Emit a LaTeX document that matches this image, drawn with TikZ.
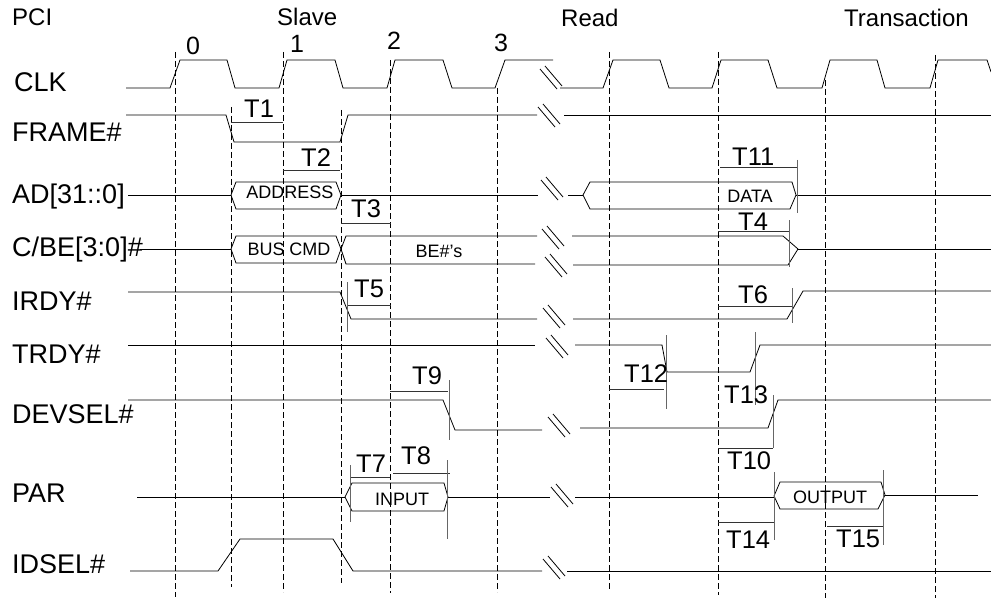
\documentclass[tikz,border=0pt]{standalone}
\usepackage{fontspec}
\setmainfont{Liberation Sans}
\newcommand\brkmark[2]{%
  \draw[sig] ({#1-10},{#2-9}) -- ({#1+7},{#2+11});
  \draw[sig] ({#1-5},{#2-12}) -- ({#1+12},{#2+8});}
\newcommand\clkline[3]{\draw[vdsh] (#1,#2) -- (#1,#3);}
\begin{document}
\begin{tikzpicture}[x=1pt,y=-1pt,
  sig/.style={line width=0.8pt,black},
  tm/.style={line width=0.7pt,black!80},
  tmv/.style={line width=0.7pt,black!60},
  vdsh/.style={line width=0.7pt,black,dash pattern=on 6pt off 3pt},
  nm/.style={anchor=base west,inner sep=0pt,font=\fontsize{27}{30}\selectfont},
  hd/.style={anchor=base west,inner sep=0pt,font=\fontsize{24}{28}\selectfont},
  tl/.style={anchor=base west,inner sep=0pt,font=\fontsize{25.5}{28}\selectfont},
  bl/.style={anchor=base,inner sep=0pt,font=\fontsize{18}{21}\selectfont}]
\useasboundingbox[fill=white] (0,0) rectangle (991,599);

% headers
\node[hd] (hPCI) at (12,26) {PCI};
\node[hd] (hSlave) at (277,26) {Slave};
\node[hd] (hRead) at (561,27) {Read};
\node[hd] (hTr) at (844,27) {Transaction};
\node[nm,font=\fontsize{25}{28}\selectfont] (n0) at (186,55) {0};
\node[nm,font=\fontsize{25}{28}\selectfont] (n1) at (290,53) {1};
\node[nm,font=\fontsize{25}{28}\selectfont] (n2) at (387,50) {2};
\node[nm,font=\fontsize{25}{28}\selectfont] (n3) at (494,52) {3};

% signal names
\node[nm] (lCLK) at (14,92) {CLK};
\node[nm] (lFRAME) at (12,142) {FRAME\#};
\node[nm] (lAD) at (12,204) {AD[31::0]};
\node[nm] (lCBE) at (12,256) {C/BE[3:0]\#};
\node[nm] (lIRDY) at (12,310) {IRDY\#};
\node[nm] (lTRDY) at (12,363) {TRDY\#};
\node[nm] (lDEV) at (12,423) {DEVSEL\#};
\node[nm] (lPAR) at (12,502) {PAR};
\node[nm] (lIDSEL) at (12,573) {IDSEL\#};

% dashed clock lines
\clkline{175}{52}{597}
\clkline{231}{107}{587}
\clkline{283}{52}{592}
\clkline{341}{110}{583}
\clkline{390}{60}{593}
\clkline{497}{88}{592}
\clkline{609}{52}{590}
\clkline{718}{52}{595}
\clkline{825}{80}{598}
\clkline{935}{55}{598}

% CLK
\draw[sig] (126,88) -- (170,88) -- (180,60) -- (227,60) -- (235,88) -- (279,88) -- (287,60) -- (335,60) -- (343,88) -- (387,88) -- (395,60) -- (443,60) -- (452,88) -- (495,88) -- (505,60) -- (553,60);
\draw[sig] (560,88) -- (603,88) -- (613,60) -- (660,60) -- (669,88) -- (712,88) -- (721,60) -- (768,60) -- (777,88) -- (822,88) -- (830,60) -- (877,60) -- (885,88) -- (930,88) -- (938,60) -- (987,60) -- (991,72);
\brkmark{550}{78}

% FRAME#
\draw[sig] (126,115) -- (226,115) -- (234,142) -- (340,142) -- (348,115) -- (537,115);
\draw[sig] (564,115) -- (991,115);
\brkmark{548}{116}

% AD
\draw[sig] (128,195) -- (231,195);
\draw[sig] (231,195) -- (236,182) -- (336,182) -- (341,195) -- (336,209) -- (236,209) -- cycle;
\draw[sig] (341,195) -- (538,195);
\draw[sig] (568,195) -- (583,195);
\draw[sig] (583,195) -- (590,182) -- (792,182) -- (796,195) -- (790,209) -- (590,209) -- cycle;
\draw[sig] (796,195) -- (991,195);
\brkmark{551}{189}
\node[bl] (tADDR) at (290,199) {ADDRESS};
\node[bl] (tDATA) at (750,202) {DATA};

% C/BE
\draw[sig] (140,249) -- (231,249);
\draw[sig] (231,249) -- (236,236) -- (336,236) -- (341,249) -- (336,263) -- (236,263) -- cycle;
\draw[sig] (341,249) -- (346,236) -- (537,236);
\draw[sig] (341,249) -- (346,264) -- (535,264);
\draw[sig] (572,236) -- (783,236) -- (798,249);
\draw[sig] (573,265) -- (788,265) -- (798,249);
\draw[sig] (798,249) -- (991,249);
\brkmark{552}{238}
\brkmark{555}{266}
\node[bl] (tBUS) at (289,255) {BUS CMD};
\node[bl] (tBE) at (439,257) {BE\#'s};

% IRDY
\draw[sig] (128,292) -- (340,292) -- (351,319) -- (537,319);
\draw[sig] (573,319) -- (787,319) -- (803,291) -- (991,291);
\brkmark{553}{317}

% TRDY
\draw[sig] (128,345) -- (535,345);
\draw[sig] (575,345) -- (662,345) -- (667,372) -- (750,372) -- (760,345) -- (991,345);
\brkmark{556}{347}

% DEVSEL
\draw[sig] (128,400) -- (443,400) -- (455,430) -- (542,430);
\draw[sig] (580,428) -- (768,428) -- (778,400) -- (991,400);
\brkmark{558}{426}

% PAR
\draw[sig] (137,497) -- (345,497);
\draw[sig] (345,497) -- (352,483) -- (444,483) -- (448,497) -- (444,511) -- (352,511) -- cycle;
\draw[sig] (448,497) -- (550,497);
\draw[sig] (575,497) -- (774,497);
\draw[sig] (774,496) -- (780,482) -- (881,482) -- (885,495) -- (878,509) -- (780,509) -- cycle;
\draw[sig] (885,495) -- (978,495);
\brkmark{561}{496}
\node[bl] (tIN) at (402,505) {INPUT};
\node[bl] (tOUT) at (830,503) {OUTPUT};

% IDSEL
\draw[sig] (130,571) -- (218,571) -- (240,539) -- (333,539) -- (353,571) -- (542,571);
\draw[sig] (567,571) -- (991,571);
\brkmark{553}{568}

% timing markers
\draw[tm] (231,122) -- (283,122);
\node[tl] (T1) at (244,118) {T1};
\draw[tm] (283,170) -- (340,170);
\node[tl] (T2) at (301,167) {T2};
\draw[tm] (341,223) -- (391,223);
\node[tl] (T3) at (351,217) {T3};
\draw[tm] (720,167) -- (797,167);
\draw[tmv] (797,160) -- (797,213);
\node[tl] (T11) at (732,165) {T11};
\draw[tm] (718,231) -- (789,231);
\draw[tmv] (789,220) -- (789,267);
\node[tl] (T4) at (738,230) {T4};
\draw[tm] (348,305) -- (391,305);
\draw[tmv] (347,282) -- (347,332);
\node[tl] (T5) at (354,297) {T5};
\draw[tm] (718,306) -- (792,306);
\draw[tmv] (792,288) -- (792,323);
\node[tl] (T6) at (738,303) {T6};
\draw[tm] (609,389) -- (664,389);
\draw[tmv] (666,335) -- (666,409);
\node[tl] (T12) at (624,382) {T12};
\draw[tmv] (755,332) -- (755,405);
\node[tl] (T13) at (724,403) {T13};
\draw[tm] (390,391) -- (448,391);
\draw[tmv] (449,380) -- (449,440);
\node[tl] (T9) at (412,384) {T9};
\draw[tm] (718,448) -- (773,448);
\draw[tmv] (773,395) -- (773,448);
\node[tl] (T10) at (727,469) {T10};
\draw[tm] (350,477) -- (390,477);
\draw[tmv] (350,465) -- (350,522);
\node[tl] (T7) at (356,472) {T7};
\draw[tm] (393,473) -- (450,473);
\draw[tmv] (447,460) -- (447,539);
\node[tl] (T8) at (401,464) {T8};
\draw[tm] (718,522) -- (774,522);
\draw[tmv] (774,472) -- (774,540);
\node[tl] (T14) at (726,548) {T14};
\draw[tm] (827,526) -- (883,526);
\draw[tmv] (883,470) -- (883,545);
\node[tl] (T15) at (836,547) {T15};
\end{tikzpicture}
\end{document}
